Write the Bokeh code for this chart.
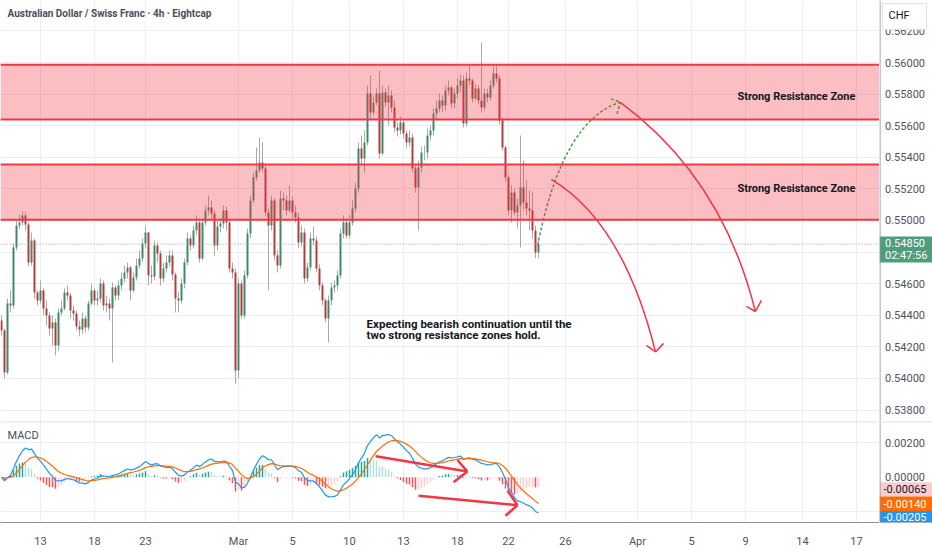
import numpy as np
from bokeh.plotting import figure
from bokeh.layouts import column, row
from bokeh.models import (ColumnDataSource, FixedTicker, Label, Span, Range1d, BoxAnnotation)
from bokeh.core.properties import value
from bokeh.embed import file_html
from bokeh.resources import INLINE

# ---------------- data (prices x 100000, 4h candles) ----------------
open_first = 54367
close_e5 = [
    54304, 54038, 54475, 54462, 54829, 54968, 54987, 55032, 54975, 54734,
    54873, 54544, 54494, 54557, 54443, 54399, 54316, 54354, 54209, 54418,
    54443, 54544, 54525, 54430, 54411, 54329, 54310, 54380, 54323, 54475,
    54557, 54494, 54506, 54601, 54462, 54475, 54443, 54576, 54525, 54589,
    54633, 54671, 54703, 54557, 54639, 54715, 54760, 54854, 54924, 54652,
    54646, 54842, 54791, 54633, 54696, 54734, 54779, 54658, 54506, 54494,
    54601, 54734, 54886, 54842, 54937, 54987, 54760, 54987, 55063, 55082,
    55044, 54842, 54962, 54981, 55063, 54987, 54696, 54671, 54051, 54601,
    54399, 54652, 54918, 55127, 55272, 55316, 55367, 55329, 55051, 54968,
    55127, 54779, 54715, 55139, 55127, 55063, 55127, 55051, 55019, 54861,
    54924, 54633, 54703, 54886, 54873, 54696, 54589, 54494, 54380, 54494,
    54576, 54589, 54652, 54918, 54987, 54905, 54987, 55076, 55203, 55456,
    55392, 55494, 55804, 55684, 55747, 55804, 55424, 55810, 55747, 55791,
    55715, 55589, 55570, 55620, 55551, 55494, 55525, 55329, 55209, 55335,
    55430, 55430, 55538, 55570, 55677, 55709, 55760, 55728, 55823, 55842,
    55740, 55804, 55854, 55886, 55614, 55899, 55886, 55772, 55835, 55760,
    55715, 55804, 55778, 55854, 55930, 55899, 55633, 55462, 55272, 55063,
    55177, 55051, 55095, 55209, 55114, 55076, 55063, 54937, 54797, 54850,
]
high_e5 = [
    54399, 54316, 54506, 54557, 54854, 55000, 55038, 55057, 55051, 54987,
    54924, 54886, 54557, 54620, 54570, 54494, 54418, 54399, 54380, 54443,
    54494, 54570, 54589, 54538, 54462, 54430, 54367, 54418, 54399, 54494,
    54601, 54570, 54557, 54633, 54620, 54525, 54506, 54608, 54589, 54620,
    54671, 54715, 54734, 54715, 54671, 54760, 54810, 54886, 54962, 54905,
    54715, 54873, 54861, 54810, 54734, 54779, 54810, 54810, 54671, 54544,
    54633, 54760, 54924, 54905, 54968, 55032, 55000, 55013, 55095, 55158,
    55127, 55063, 55000, 55013, 55095, 55089, 55013, 54734, 54696, 54633,
    54620, 54684, 54949, 55158, 55304, 55462, 55525, 55494, 55348, 55076,
    55158, 55139, 54810, 55190, 55177, 55158, 55222, 55152, 55095, 55051,
    54968, 54949, 54734, 54924, 54962, 54899, 54722, 54608, 54506, 54525,
    54608, 54620, 54684, 54949, 55032, 55013, 55032, 55127, 55241, 55494,
    55538, 55570, 55854, 55918, 55791, 55835, 55949, 55854, 55835, 55854,
    55823, 55760, 55620, 55658, 55633, 55570, 55570, 55551, 55348, 55380,
    55468, 55475, 55582, 55601, 55709, 55760, 55804, 55791, 55854, 55886,
    55854, 55835, 55899, 55924, 55918, 55937, 55981, 55899, 55861, 55854,
    56127, 55835, 55835, 55886, 55975, 55987, 55918, 55646, 55475, 55285,
    55222, 55203, 55139, 55538, 55380, 55253, 55190, 55177, 54968, 54886,
]
low_e5 = [
    54272, 54000, 54025, 54418, 54443, 54810, 54949, 54968, 54937, 54709,
    54715, 54506, 54462, 54475, 54399, 54335, 54272, 54209, 54146, 54177,
    54399, 54430, 54494, 54380, 54367, 54304, 54266, 54285, 54291, 54304,
    54462, 54462, 54462, 54481, 54430, 54418, 54367, 54101, 54494, 54494,
    54557, 54608, 54633, 54494, 54544, 54620, 54696, 54734, 54823, 54589,
    54601, 54620, 54734, 54589, 54608, 54671, 54709, 54620, 54418, 54418,
    54475, 54570, 54715, 54810, 54823, 54911, 54734, 54747, 54968, 55032,
    55013, 54779, 54810, 54924, 54949, 54937, 54671, 54633, 53968, 54000,
    54380, 54380, 54633, 54886, 55108, 55253, 55304, 55304, 55025, 54557,
    54937, 54747, 54671, 54696, 55063, 55032, 55051, 55013, 54987, 54823,
    54835, 54601, 54608, 54684, 54842, 54671, 54557, 54462, 54354, 54228,
    54462, 54544, 54557, 54633, 54886, 54886, 54886, 54968, 55051, 55177,
    55348, 55304, 55475, 55646, 55665, 55728, 55392, 55411, 55722, 55601,
    55684, 55557, 55532, 55544, 55519, 55456, 55468, 55304, 55177, 54937,
    55304, 55380, 55392, 55506, 55538, 55633, 55684, 55684, 55696, 55791,
    55709, 55709, 55772, 55810, 55589, 55595, 55854, 55747, 55760, 55734,
    55684, 55696, 55747, 55760, 55835, 55873, 55608, 55443, 55241, 55032,
    54987, 55032, 54949, 54829, 55063, 55032, 54937, 54886, 54760, 54760,
]

tick_bars = [13, 31, 48, 79, 97, 116, 134, 152, 169, 188, 212, 230, 248, 267, 285]
tick_labels = ["13", "18", "23", "Mar", "5", "10", "13", "18", "22", "26",
               "Apr", "5", "9", "14", "17"]
price_ticks = [0.538, 0.540, 0.542, 0.544, 0.546, 0.548, 0.550, 0.552,
               0.554, 0.556, 0.558, 0.560, 0.562]
hidden_price_tick = 0.548
macd_ticks = [0.002, 0.0]
macd_grid = [0.002, -0.002]
zones = [(0.55640, 0.55985), (0.55005, 0.55355)]
last_price = 0.54850
last_price_text = "0.54850"
countdown_text = "02:47:56"
currency_text = "CHF"
macd_value_texts = ["-0.00065", "-0.00140", "-0.00205"]   # histogram, signal, macd

title_text = "Australian Dollar / Swiss Franc \u00b7 4h \u00b7 Eightcap"
zone_text = "Strong Resistance Zone"
note_lines = ["Expecting bearish continuation until the",
              "two strong resistance zones hold."]

# ---------------- derived series ----------------
n = min(len(close_e5), len(high_e5), len(low_e5))
closes = np.array(close_e5[:n]) / 1e5
opens = np.concatenate([[open_first / 1e5], closes[:-1]])
highs = np.maximum(np.array(high_e5[:n]) / 1e5, np.maximum(opens, closes))
lows = np.minimum(np.array(low_e5[:n]) / 1e5, np.minimum(opens, closes))
idx = np.arange(n)

GREEN = "#3f8a66"
RED = "#b53a3a"
colors = [GREEN if c >= o else RED for o, c in zip(opens, closes)]

def ema(x, span):
    a = 2.0 / (span + 1.0)
    out = np.empty_like(x)
    out[0] = x[0]
    for i in range(1, len(x)):
        out[i] = a * x[i] + (1 - a) * out[i - 1]
    return out

macd = ema(closes, 12) - ema(closes, 26)
signal = ema(macd, 9)
hist = macd - signal
hcol = []
for i, h in enumerate(hist):
    prev = hist[i - 1] if i > 0 else 0.0
    if h >= 0:
        hcol.append("#26a69a" if h > prev else "#b2dfdb")
    else:
        hcol.append("#ff5252" if h < prev else "#ffcdd2")

FONT = "Roboto"
AXIS_COL = "#50535e"
AXIS_LINE = "#8d9099"
GRID_COL = "#eceef2"
LINE_RED = "#f23645"
TXT = "#131722"

X0, X1 = -0.33, 292.67
W_MAIN, W_AX = 879, 53
H_MAIN, H_MACD, H_XAX = 421, 105, 24
P_RANGE = (0.537275, 0.563925)
M_RANGE = (-0.00261, 0.00322)


def base_fig(w, h, xr, yr, **kw):
    f = figure(width=w, height=h, x_range=xr, y_range=yr,
               output_backend="svg", toolbar_location=None,
               min_border_left=0, min_border_right=0, min_border_top=0,
               min_border_bottom=kw.pop("min_border_bottom", 0), **kw)
    f.outline_line_color = None
    f.background_fill_color = "white"
    f.border_fill_color = "white"
    return f


def lab(fig, x, y, text, size="11px", color=TXT, bold=False, align="left"):
    fig.add_layout(Label(x=x, y=y, text=text, text_font=FONT, text_font_size=size,
                         text_color=color, text_font_style="bold" if bold else "normal",
                         text_align=align, text_baseline="middle"))


# ---------------- main price panel ----------------
p = base_fig(W_MAIN, H_MAIN, Range1d(X0, X1), Range1d(*P_RANGE),
             x_axis_location=None, y_axis_location=None)
p.ygrid.ticker = FixedTicker(ticks=price_ticks)
p.xgrid.ticker = FixedTicker(ticks=tick_bars)
p.ygrid.grid_line_color = GRID_COL
p.xgrid.grid_line_color = GRID_COL

src = ColumnDataSource(dict(x=idx, top=np.maximum(opens, closes), bottom=np.minimum(opens, closes),
                            high=highs, low=lows, color=colors))
p.segment(x0="x", y0="low", x1="x", y1="high", source=src, line_color="#a8a8a8", line_width=1)
p.vbar(x="x", width=0.66, top="top", bottom="bottom", source=src,
       fill_color="color", line_color=None)

for lo, hi in zones:
    p.add_layout(BoxAnnotation(bottom=lo, top=hi, fill_color=LINE_RED, fill_alpha=0.32,
                               line_color=None))
    p.add_layout(Span(location=lo, dimension="width", line_color=LINE_RED, line_width=2))
    p.add_layout(Span(location=hi, dimension="width", line_color=LINE_RED, line_width=2))

p.add_layout(Span(location=last_price, dimension="width", line_color="#9598a1",
                  line_dash="1 2", line_width=1))

# curved projection arrows (bar index, price)
p.quadratic(x0=[183.3, 206.3], y0=[0.55260, 0.55747],
            x1=[218.0, 251.3], y1=[0.54168, 0.54424],
            cx=[207.3, 240.2], cy=[0.54987, 0.55272],
            line_color=LINE_RED, line_width=1.5)
p.segment(x0=[215.0, 220.7, 248.3, 253.3], y0=[0.54209, 0.54222, 0.54456, 0.54494],
          x1=[218.0, 218.0, 251.3, 251.3], y1=[0.54168, 0.54168, 0.54424, 0.54424],
          line_color=LINE_RED, line_width=1.5)
p.quadratic(x0=[178.7], y0=[0.54842], x1=[206.3], y1=[0.55749], cx=[187.0], cy=[0.55635],
            line_color="#43a047", line_width=1.5, line_dash="3 2")
p.segment(x0=[203.2, 205.2], y0=[0.55770, 0.55675], x1=[206.3, 206.3], y1=[0.55749, 0.55749],
          line_color="#43a047", line_width=1.5, line_dash="3 2")

lab(p, 2.0, 0.56310, title_text, size="10px", color="#4a4d57", bold=True)
lab(p, 245.3, 0.55787, zone_text, bold=True)
lab(p, 245.3, 0.55203, zone_text, bold=True)
lab(p, 121.7, 0.54342, note_lines[0], size="11.5px", bold=True)
lab(p, 121.7, 0.54274, note_lines[1], size="11.5px", bold=True)

# ---------------- price scale column ----------------
pa = base_fig(W_AX, H_MAIN, Range1d(0, W_AX), p.y_range,
              x_axis_location=None, y_axis_location=None)
pa.grid.visible = False
shown = [t for t in price_ticks if abs(t - hidden_price_tick) > 1e-9]
pa.text(x=[5.5] * len(shown), y=shown, text=["%.5f" % t for t in shown],
        text_font=value(FONT), text_font_size=value("11px"), text_color=AXIS_COL,
        text_baseline="middle", text_align="left")
# currency box
pa.quad(left=[3], right=[47], bottom=[0.56210], top=[0.56373], fill_color="white",
        line_color="#e0e3eb", line_width=1)
pa.text(x=[9], y=[0.56300], text=[currency_text], text_font=value(FONT),
        text_font_size=value("11px"), text_color=TXT, text_baseline="middle")
# last price box
pa.quad(left=[0], right=[W_AX], bottom=[0.54734], top=[0.54899], fill_color="#4f9d7a",
        line_color=None)
pa.text(x=[5.5, 5.5], y=[0.54856, 0.54776], text=[last_price_text, countdown_text],
        text_font=value(FONT), text_font_size=value("11px"), text_color="white",
        text_baseline="middle")
pa.add_layout(Span(location=0.5, dimension="height", line_color=AXIS_LINE, line_width=1))
pa.add_layout(Span(location=P_RANGE[0], dimension="width", line_color="#e6e8ee", line_width=1))

# ---------------- MACD panel ----------------
m = base_fig(W_MAIN, H_MACD + H_XAX, p.x_range, Range1d(*M_RANGE),
             y_axis_location=None, x_axis_location="below", min_border_bottom=H_XAX)
m.xaxis.ticker = FixedTicker(ticks=tick_bars)
m.xaxis.major_label_overrides = {b: t for b, t in zip(tick_bars, tick_labels)}
m.xaxis.major_tick_line_color = None
m.xaxis.minor_tick_line_color = None
m.xaxis.axis_line_color = AXIS_LINE
m.xaxis.major_label_text_font = FONT
m.xaxis.major_label_text_font_size = "11px"
m.xaxis.major_label_text_color = AXIS_COL
m.xaxis.major_label_standoff = 6
m.ygrid.ticker = FixedTicker(ticks=macd_grid)
m.xgrid.ticker = FixedTicker(ticks=tick_bars)
m.ygrid.grid_line_color = GRID_COL
m.xgrid.grid_line_color = GRID_COL
m.add_layout(Span(location=M_RANGE[1], dimension="width", line_color="#d6d9e0", line_width=1.5))

msrc = ColumnDataSource(dict(x=idx, hist=hist, macd=macd, signal=signal, color=hcol))
m.vbar(x="x", width=0.5, top="hist", bottom=0, source=msrc, fill_color="color", line_color=None)
m.line(x="x", y="macd", source=msrc, line_color="#2196f3", line_width=1.2)
m.line(x="x", y="signal", source=msrc, line_color="#ff6d00", line_width=1.2)

m.segment(x0=[124.7, 152.0, 150.7, 139.0, 168.7, 168.0],
          y0=[0.00122, 0.00100, -0.00028, -0.00106, -0.00078, -0.00222],
          x1=[155.3, 155.3, 155.3, 172.0, 172.0, 172.0],
          y1=[0.00033, 0.00033, 0.00033, -0.00161, -0.00161, -0.00161],
          line_color=LINE_RED, line_width=2.5)
lab(m, 2.0, 0.00239, "MACD", size="11px", color="#4a4d57")

# ---------------- MACD scale column (same frame as MACD panel) ----------------
ma = base_fig(W_AX, H_MACD + H_XAX, Range1d(0, W_AX), m.y_range,
              x_axis_location=None, y_axis_location=None, min_border_bottom=H_XAX)
ma.grid.visible = False
ma.text(x=[5.5] * len(macd_ticks), y=macd_ticks, text=["%.5f" % t for t in macd_ticks],
        text_font=value(FONT), text_font_size=value("11px"), text_color=AXIS_COL,
        text_baseline="middle")
box_bottoms = [-0.00111, -0.00194, -0.00262]
box_tops = [-0.00028, -0.00111, -0.00194]
box_text_y = [-0.00069, -0.00152, -0.00230]
box_fill = ["#fccbd0", "#ff6d00", "#2196f3"]
box_text_col = [TXT, "white", "white"]
ma.quad(left=[0] * 3, right=[W_AX] * 3, bottom=box_bottoms, top=box_tops,
        fill_color=box_fill, line_color=None)
ma.text(x=[4] * 3, y=box_text_y,
        text=macd_value_texts, text_font=value(FONT), text_font_size=value("11px"),
        text_color=box_text_col, text_baseline="middle")
ma.add_layout(Span(location=0.5, dimension="height", line_color=AXIS_LINE, line_width=1))
ma.add_layout(Span(location=M_RANGE[1], dimension="width", line_color="#d6d9e0", line_width=1.5))
ma.add_layout(Span(location=M_RANGE[0], dimension="width", line_color=AXIS_LINE, line_width=1))

layout = column(row(p, pa, spacing=0), row(m, ma, spacing=0), spacing=0)
open("out.html", "w").write(file_html(layout, INLINE))
